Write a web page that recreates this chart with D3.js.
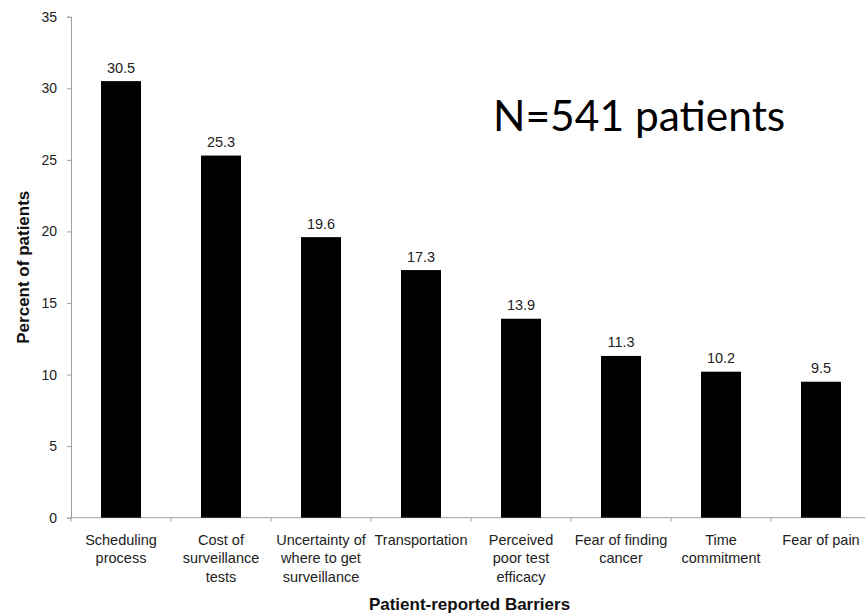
<!DOCTYPE html>
<html>
<head>
<meta charset="utf-8">
<script src="https://cdn.jsdelivr.net/npm/d3@7"></script>
<style>
  html, body { margin: 0; padding: 0; background: #fff; }
  svg { display: block; }
</style>
</head>
<body>
<svg id="chart" width="865" height="613"></svg>
<script>
// Patient-reported barriers to surveillance, percent of patients
const categories = [
  "Scheduling\nprocess",
  "Cost of\nsurveillance\ntests",
  "Uncertainty of\nwhere to get\nsurveillance",
  "Transportation",
  "Perceived\npoor test\nefficacy",
  "Fear of finding\ncancer",
  "Time\ncommitment",
  "Fear of pain"
];
const percents = [30.5, 25.3, 19.6, 17.3, 13.9, 11.3, 10.2, 9.5];
const yTicks = [0, 5, 10, 15, 20, 25, 30, 35];
const xTitle = "Patient-reported Barriers";
const yTitle = "Percent of patients";
const note = "N=541 patients";

const svg = d3.select("#chart");
const plotLeft = 71, plotRight = 871, plotTop = 16.7, plotBottom = 517.7;
const axisColor = "#a0a0a0";
const textFont = "'Liberation Sans', Arial, sans-serif";

const x = d3.scaleBand()
  .domain(categories)
  .range([plotLeft, plotRight])
  .paddingInner(0.6)
  .paddingOuter(0.3);

const y = d3.scaleLinear().domain([0, 35]).range([plotBottom, plotTop]);

// y axis
const yAxis = svg.append("g")
  .attr("transform", `translate(${plotLeft},0)`)
  .call(d3.axisLeft(y).tickValues(yTicks).tickSize(4).tickPadding(10).tickFormat(d3.format("d")));
yAxis.select(".domain").attr("stroke", axisColor);
yAxis.selectAll(".tick line").attr("stroke", axisColor);
yAxis.selectAll(".tick text")
  .attr("fill", "#222")
  .style("font-family", textFont)
  .style("font-size", "14px");

// x axis line with ticks at category boundaries
svg.append("line")
  .attr("x1", plotLeft).attr("x2", plotRight)
  .attr("y1", plotBottom).attr("y2", plotBottom)
  .attr("stroke", axisColor);
const step = x.step();
d3.range(categories.length + 1).forEach(i => {
  const bx = plotLeft + i * step;
  svg.append("line")
    .attr("x1", bx).attr("x2", bx)
    .attr("y1", plotBottom).attr("y2", plotBottom + 4)
    .attr("stroke", axisColor);
});

// bars
svg.append("g").selectAll("rect")
  .data(percents)
  .join("rect")
  .attr("x", (d, i) => x(categories[i]))
  .attr("width", x.bandwidth())
  .attr("y", d => y(d))
  .attr("height", d => y(0) - y(d))
  .attr("fill", "#000");

// value labels above bars
svg.append("g").selectAll("text")
  .data(percents)
  .join("text")
  .attr("x", (d, i) => x(categories[i]) + x.bandwidth() / 2)
  .attr("y", d => y(d) - 8.5)
  .attr("text-anchor", "middle")
  .attr("fill", "#222")
  .style("font-family", textFont)
  .style("font-size", "14.5px")
  .text(d => d3.format(".1f")(d));

// category labels, one tspan per line
const catLabels = svg.append("g").selectAll("text")
  .data(categories)
  .join("text")
  .attr("text-anchor", "middle")
  .attr("fill", "#222")
  .style("font-family", textFont)
  .style("font-size", "14.5px");
catLabels.each(function(d) {
  const cx = x(d) + x.bandwidth() / 2;
  d3.select(this).selectAll("tspan")
    .data(d.split("\n"))
    .join("tspan")
    .attr("x", cx)
    .attr("y", (line, j) => 545 + j * 18.3)
    .text(line => line);
});

// axis titles
svg.append("text")
  .attr("x", (plotLeft + plotRight) / 2 - 1.5)
  .attr("y", 610)
  .attr("text-anchor", "middle")
  .attr("fill", "#111")
  .style("font-family", textFont)
  .style("font-size", "17px")
  .style("font-weight", "bold")
  .text(xTitle);

svg.append("text")
  .attr("transform", `translate(29,${(plotTop + plotBottom) / 2}) rotate(-90)`)
  .attr("text-anchor", "middle")
  .attr("fill", "#111")
  .style("font-family", textFont)
  .style("font-size", "17px")
  .style("font-weight", "bold")
  .text(yTitle);

// sample size note, sized to its span
const noteText = svg.append("text")
  .attr("x", 493)
  .attr("y", 131)
  .attr("fill", "#000")
  .style("font-family", "Lato, 'Open Sans', sans-serif")
  .style("font-size", "44px")
  .text(note);
const w = noteText.node().getComputedTextLength();
if (w > 0) noteText.style("font-size", (44 * 292 / w).toFixed(1) + "px");
</script>
</body>
</html>
